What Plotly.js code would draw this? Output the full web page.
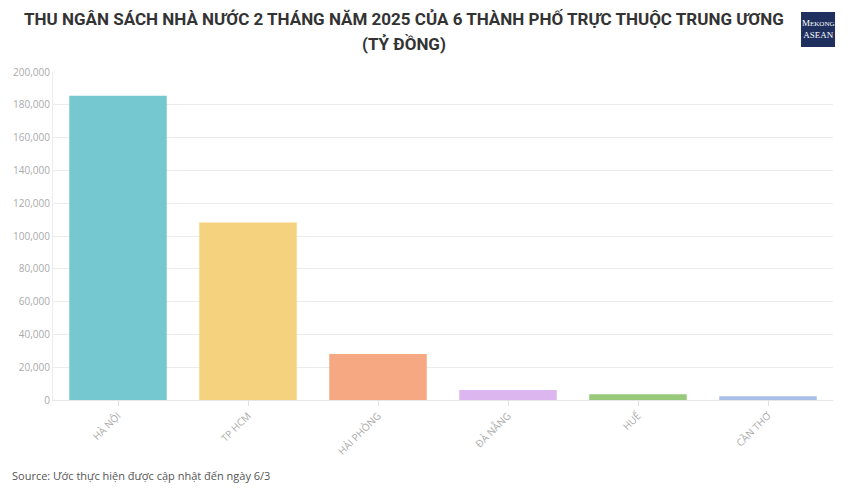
<!DOCTYPE html>
<html>
<head>
<meta charset="utf-8">
<script src="https://cdn.plot.ly/plotly-3.0.1.min.js"></script>
<style>html,body{margin:0;padding:0;background:#fff;}#chart{width:850px;height:492px;}</style>
</head>
<body>
<div id="chart"></div>
<script>
const cities = ["HÀ NỘI", "TP HCM", "HẢI PHÒNG", "ĐÀ NẴNG", "HUẾ", "CẦN THƠ"];
const revenue = [185500, 108200, 28000, 6100, 3500, 2300];
const barColors = ["#76c8d0", "#f5d27e", "#f6a882", "#dcb6ee", "#98c97a", "#a8bfe8"];
const yTicks = [0, 20000, 40000, 60000, 80000, 100000, 120000, 140000, 160000, 180000, 200000];
const titleLines = ["THU NGÂN SÁCH NHÀ NƯỚC 2 THÁNG NĂM 2025 CỦA 6 THÀNH PHỐ TRỰC THUỘC TRUNG ƯƠNG", "(TỶ ĐỒNG)"];

const trace = {
  type: "bar",
  x: cities,
  y: revenue,
  marker: {color: barColors},
  hoverinfo: "x+y"
};

const titleFont = {family: "Roboto, sans-serif", size: 17, color: "#333333", weight: "bold"};

const layout = {
  width: 850, height: 492,
  margin: {l: 53, r: 17, t: 72, b: 92},
  paper_bgcolor: "#fff", plot_bgcolor: "#fff",
  bargap: 0.25,
  showlegend: false,
  font: {family: "Open Sans, sans-serif", color: "#aaaaaa"},
  xaxis: {
    tickangle: -45,
    tickfont: {size: 10, color: "#aaaaaa"},
    ticks: "outside", ticklen: 5, tickcolor: "#e0e0e0",
    showline: true, linecolor: "#e6e6e6", linewidth: 1,
    showgrid: false, fixedrange: true
  },
  yaxis: {
    range: [0, 200000],
    tickvals: yTicks,
    tickformat: ",d",
    tickfont: {size: 10, color: "#aaaaaa"},
    gridcolor: "#ececec", gridwidth: 1,
    showline: true, linecolor: "#ececec",
    zeroline: false,
    fixedrange: true
  },
  shapes: [
    {type: "rect", xref: "paper", yref: "paper", x0: 0.959, x1: 1.0026, y0: 1.076, y1: 1.183,
     fillcolor: "#1f2f5e", line: {width: 0}}
  ],
  annotations: [
    {text: "<b>" + titleLines[0] + "</b>", xref: "paper", yref: "paper",
     x: 0.4494, y: 1.1616, xanchor: "center", yanchor: "middle", showarrow: false, font: titleFont},
    {text: "<b>" + titleLines[1] + "</b>", xref: "paper", yref: "paper",
     x: 0.4494, y: 1.0854, xanchor: "center", yanchor: "middle", showarrow: false, font: titleFont},
    {text: "Source: Ước thực hiện được cập nhật đến ngày 6/3", xref: "paper", yref: "paper",
     x: -0.0551, y: -0.2317, xanchor: "left", yanchor: "middle", showarrow: false,
     font: {family: "Open Sans, sans-serif", size: 11, color: "#555555"}},
    {text: "M<span style='font-size:7px'>EKONG</span><br>ASEAN", xref: "paper", yref: "paper",
     x: 0.981, y: 1.13, xanchor: "center", yanchor: "middle", showarrow: false,
     font: {family: "Liberation Serif, serif", size: 9, color: "#ffffff"}}
  ]
};

Plotly.newPlot("chart", [trace], layout, {displayModeBar: false, staticPlot: true});
</script>
</body>
</html>
